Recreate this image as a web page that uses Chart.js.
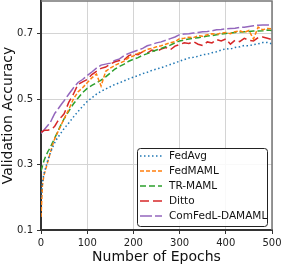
<!DOCTYPE html>
<html><head><meta charset="utf-8">
<script src="https://cdn.jsdelivr.net/npm/chart.js@4"></script>
<style>html,body{margin:0;padding:0;background:#fff}#wrap{width:281px;height:266px;position:relative}</style>
</head><body><div id="wrap"><canvas id="c" width="281" height="266"></canvas></div>
<script>
const epochs=[0,3,6,10,15,20,25,30,35,40,45,50,60,70,80,90,100,110,120,130,140,150,160,170,180,190,200,210,220,230,240,250,260,270,280,290,300,310,320,330,340,350,360,370,380,390,400,410,420,430,440,450,460,470,480,490,500];
const fedAvg=[0.20,0.245,0.27,0.29,0.315,0.335,0.352,0.368,0.38,0.39,0.40,0.41,
0.427,0.445,0.462,0.478,0.493,0.504,0.515,0.524,0.531,0.538,0.545,0.55,0.556,0.562,0.567,0.572,0.578,0.582,0.588,0.592,0.596,0.601,0.606,0.611,0.616,0.621,0.626,0.628,0.631,0.636,0.637,0.642,0.645,0.65,0.654,0.653,0.658,0.66,0.664,0.663,0.667,0.669,0.673,0.673,0.669];
const fedMAML=[0.14,0.235,0.265,0.285,0.31,0.335,0.36,0.38,0.395,0.41,0.425,0.44,
0.468,0.50,0.522,0.535,0.55,0.565,0.577,0.54,0.585,0.595,0.603,0.61,0.616,0.627,0.632,0.64,0.645,0.652,0.655,0.66,0.663,0.668,0.672,0.676,0.685,0.686,0.689,0.688,0.694,0.692,0.697,0.70,0.698,0.702,0.704,0.70,0.706,0.709,0.704,0.71,0.684,0.72,0.712,0.716,0.715];
const trMAML=[0.28,0.295,0.31,0.325,0.34,0.352,0.367,0.382,0.397,0.412,0.426,0.44,
0.463,0.485,0.503,0.52,0.533,0.542,0.55,0.558,0.568,0.58,0.592,0.6,0.607,0.616,0.622,0.627,0.634,0.639,0.645,0.65,0.655,0.66,0.665,0.672,0.678,0.681,0.684,0.686,0.688,0.69,0.693,0.694,0.697,0.699,0.701,0.702,0.704,0.705,0.706,0.707,0.708,0.708,0.709,0.711,0.71];
const ditto=[0.40,0.40,0.404,0.405,0.405,0.407,0.41,0.418,0.43,0.44,0.447,0.455,
0.49,0.515,0.545,0.553,0.56,0.575,0.585,0.594,0.598,0.607,0.614,0.618,0.62,0.633,0.638,0.636,0.645,0.641,0.65,0.646,0.653,0.658,0.651,0.662,0.667,0.672,0.67,0.676,0.668,0.664,0.675,0.672,0.682,0.678,0.684,0.668,0.68,0.676,0.686,0.68,0.678,0.688,0.69,0.686,0.682];
const comFedL=[0.395,0.40,0.405,0.412,0.42,0.428,0.443,0.457,0.466,0.476,0.486,0.495,
0.515,0.534,0.551,0.56,0.572,0.583,0.595,0.604,0.607,0.61,0.618,0.623,0.633,0.64,0.645,0.65,0.655,0.663,0.667,0.672,0.675,0.68,0.685,0.69,0.697,0.699,0.70,0.702,0.704,0.706,0.707,0.709,0.712,0.713,0.715,0.716,0.717,0.719,0.72,0.722,0.724,0.726,0.727,0.727,0.726];
const seriesNames=['FedAvg','FedMAML','TR-MAML','Ditto','ComFedL-DAMAML'];
const xTicks=[0,100,200,300,400,500];
const yTicks=[0.1,0.3,0.5,0.7];

const seriesVals=[fedAvg,fedMAML,trMAML,ditto,comFedL];
const colors=['#1f77b4','#ff7f0e','#2ca02c','#d62728','#9467bd'];
const dashes=[[1.5,2.5],[4,2],[6,3],[9,4],[12,3]];
const FONT='"DejaVu Sans", sans-serif';

const datasets=seriesVals.map((vals,k)=>({
  label:seriesNames[k],
  data:epochs.map((e,i)=>({x:e,y:vals[i]})),
  borderColor:colors[k],backgroundColor:colors[k],
  borderDash:dashes[k],borderWidth:1.5,pointRadius:0,tension:0,fill:false
}));

function zeroPad(s){s.paddingTop=0;s.paddingBottom=0;s.paddingLeft=0;s.paddingRight=0;}

const framePlugin={id:'frame',afterDraw(chart){
  const ctx=chart.ctx,a=chart.chartArea;
  ctx.save();
  ctx.strokeStyle='#777';ctx.lineWidth=1.5;
  ctx.beginPath();ctx.moveTo(a.left,a.top);ctx.lineTo(a.right,a.top);ctx.lineTo(a.right,a.bottom);ctx.stroke();
  // legend
  const bx=137.5,by=148.5,bw=130,bh=78;
  ctx.fillStyle='rgba(255,255,255,0.85)';ctx.strokeStyle='#222';ctx.lineWidth=1;
  ctx.beginPath();
  if(ctx.roundRect)ctx.roundRect(bx,by,bw,bh,3);else ctx.rect(bx,by,bw,bh);
  ctx.fill();ctx.stroke();
  chart.data.datasets.forEach((d,i)=>{
    const y=156+i*15;
    ctx.strokeStyle=d.borderColor;ctx.lineWidth=1.5;ctx.setLineDash(d.borderDash);
    ctx.beginPath();ctx.moveTo(140,y);ctx.lineTo(162,y);ctx.stroke();
    ctx.setLineDash([]);
    ctx.fillStyle='#111';ctx.font='10.5px '+FONT;ctx.textBaseline='middle';ctx.textAlign='left';
    ctx.fillText(d.label,169,y+0.5);
  });
  ctx.restore();
}};

new Chart(document.getElementById('c'),{
  type:'line',
  data:{datasets},
  options:{
    responsive:false,devicePixelRatio:1,animation:false,
    layout:{padding:{top:1,right:9,left:0,bottom:0}},
    plugins:{legend:{display:false},tooltip:{enabled:false}},
    scales:{
      x:{type:'linear',min:0,max:500,
        afterBuildTicks:s=>{s.ticks=xTicks.map(v=>({value:v}));},
        afterFit:s=>{s.height=36;zeroPad(s);},
        ticks:{font:{family:FONT,size:10},color:'#222',padding:3,maxRotation:0,autoSkip:false,callback:v=>String(v)},
        grid:{color:'#d4d4d4',lineWidth:1,tickLength:4,tickColor:'#333'},
        border:{color:'#333',width:2},
        title:{display:true,text:'Number of Epochs',font:{family:FONT,size:14},color:'#111',padding:0}
      },
      y:{type:'linear',min:0.1,max:0.8,
        afterBuildTicks:s=>{s.ticks=yTicks.map(v=>({value:v}));},
        afterFit:s=>{s.width=41;zeroPad(s);},
        ticks:{font:{family:FONT,size:10},color:'#222',padding:4,autoSkip:false,callback:v=>v.toFixed(1)},
        grid:{color:'#d4d4d4',lineWidth:1,tickLength:4,tickColor:'#333'},
        border:{color:'#333',width:2},
        title:{display:true,text:'Validation Accuracy',font:{family:FONT,size:14},color:'#111',padding:0}
      }
    }
  },
  plugins:[framePlugin]
});
</script></body></html>
